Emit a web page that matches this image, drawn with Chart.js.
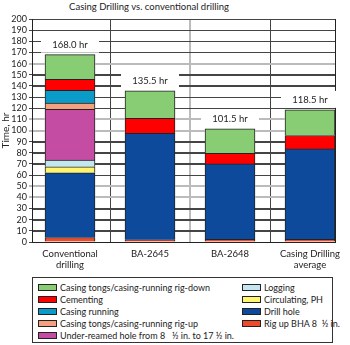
<!DOCTYPE html>
<html lang="en">
<head>
<meta charset="UTF-8">
<title>Casing Drilling vs. conventional drilling</title>
<style>
  html, body { margin: 0; padding: 0; background: #fff; }
  #wrap { position: relative; width: 350px; height: 345px; font-family: Lato, sans-serif; color: #222; }
  #title { position: absolute; left: 0; width: 298px; top: 1px; height: 14px; text-align: center; font-size: 9.5px; }
  #chart { position: absolute; left: 0; top: 0; }
  #legend {
    position: absolute; left: 32px; top: 277px; width: 301px; height: 66px;
    box-sizing: border-box; border: 1px solid #333; padding: 3px 0 0 5px;
    display: grid; grid-template-rows: repeat(5, 12px); grid-auto-flow: column;
    grid-template-columns: 204px 90px; font-size: 9px;
  }
  #legend .item { display: flex; align-items: center; white-space: pre; }
  #legend .sw { width: 17px; height: 5px; border: 1px solid #222; margin-right: 3px; flex: none; }
</style>
</head>
<body>
<div id="wrap">
  <div id="title">Casing Drilling vs. conventional drilling</div>
  <canvas id="chart" width="350" height="272"></canvas>
  <div id="legend"></div>
</div>
<script src="https://cdn.jsdelivr.net/npm/chart.js"></script>
<script>
// categories along x
const categories = [['Conventional', 'drilling'], 'BA-2645', 'BA-2648', ['Casing Drilling', 'average']];

// hours per activity, bottom of the stack first (null = not done)
const rigUpBha      = [4, 2, 2.5, 2.5];
const drillHole     = [58, 95.5, 67.5, 81];
const circulating   = [5.5, null, null, null];
const logging       = [6, null, null, null];
const underReamed   = [45.5, null, null, null];
const tongsRigUp    = [5.5, null, null, null];
const casingRunning = [11.5, null, null, null];
const cementing     = [10, 13.5, 9.5, 12];
const tongsRigDown  = [22, 24.5, 22, 23];

const yMin = 0, yMax = 200, yStep = 10;
const heavyLines = [40, 50, 100, 110, 160];

const series = [
  { label: 'Rig up BHA 8  \u00bd in.', data: rigUpBha, color: '#EE4B2B' },
  { label: 'Drill hole', data: drillHole, color: '#0D4A9B' },
  { label: 'Circulating, PH', data: circulating, color: '#FFF56E' },
  { label: 'Logging', data: logging, color: '#C4E6F0' },
  { label: 'Under-reamed hole from 8   \u00bd in. to 17 \u00bd in.', data: underReamed, color: '#C44DA3' },
  { label: 'Casing tongs/casing-running rig-up', data: tongsRigUp, color: '#F5A07E' },
  { label: 'Casing running', data: casingRunning, color: '#0A9BC8' },
  { label: 'Cementing', data: cementing, color: '#FF0000' },
  { label: 'Casing tongs/casing-running rig-down', data: tongsRigDown, color: '#88CC74' }
];

const FONT = 'Lato, sans-serif';
const yValues = [];
for (let v = yMin; v <= yMax; v += yStep) yValues.push(v);
const totalOf = i => series.reduce((sum, s) => sum + (s.data[i] || 0), 0);

// horizontal rules between the bars, then "168.0 hr" totals on a white patch
const totalsPlugin = {
  id: 'totals',
  afterDatasetsDraw(chart) {
    const { ctx, chartArea: a, scales: { x, y } } = chart;
    const meta = chart.getDatasetMeta(0);
    const bars = categories.map((c, i) => {
      const half = (meta.data[i] ? meta.data[i].width : 50) / 2;
      const px = x.getPixelForValue(i);
      return { left: px - half, right: px + half, top: y.getPixelForValue(totalOf(i)) };
    });
    ctx.save();
    yValues.forEach(v => {
      if (v === yMin) return;
      const heavy = heavyLines.includes(v);
      const w = heavy ? 2 : 1;
      const py = heavy ? Math.round(y.getPixelForValue(v)) : Math.round(y.getPixelForValue(v)) + 0.5;
      ctx.strokeStyle = heavy ? '#bbb' : '#444';
      ctx.lineWidth = w;
      let start = a.left + 1;
      ctx.beginPath();
      bars.forEach(b => {
        if (py > b.top) {
          ctx.moveTo(start, py);
          ctx.lineTo(b.left, py);
          start = b.right;
        }
      });
      ctx.moveTo(start, py);
      ctx.lineTo(a.right, py);
      ctx.stroke();
    });
    ctx.restore();

    categories.forEach((c, i) => {
      const total = totalOf(i);
      const px = x.getPixelForValue(i);
      const py = y.getPixelForValue(total);
      ctx.save();
      ctx.fillStyle = '#fff';
      ctx.fillRect(px - 29, py - 19, 58, 17);
      ctx.fillStyle = '#222';
      ctx.font = '9.5px ' + FONT;
      ctx.textAlign = 'center';
      ctx.textBaseline = 'middle';
      ctx.fillText(total.toFixed(1) + ' hr', px, py - 10);
      ctx.restore();
    });
  }
};

const chart = new Chart(document.getElementById('chart'), {
  type: 'bar',
  data: {
    datasets: series.map(s => ({
      label: s.label,
      data: s.data.map((v, i) => ({ x: i, y: v })).filter(p => p.y !== null),
      backgroundColor: s.color,
      borderColor: '#222',
      borderWidth: 1,
      barThickness: 50
    }))
  },
  options: {
    responsive: false,
    animation: false,
    layout: { padding: { top: 19, right: 14 } },
    plugins: {
      legend: { display: false },
      tooltip: { enabled: false }
    },
    scales: {
      x: {
        type: 'linear',
        stacked: true,
        offset: false,
        min: -0.475,
        max: 3.3125,
        afterBuildTicks: s => { s.ticks = [0, 0.5, 1, 1.5, 2, 2.5, 3].map(v => ({ value: v })); },
        afterFit: s => { s.height = 30; },
        ticks: {
          autoSkip: false, maxRotation: 0, padding: 6, color: '#222',
          font: { family: FONT, size: 9.5 },
          callback: v => Number.isInteger(v) ? categories[v] : ''
        },
        grid: {
          offset: false,
          drawTicks: false,
          color: c => (c.tick && !Number.isInteger(c.tick.value)) ? (c.tick.value === 1.5 ? '#bbb' : '#444') : 'rgba(0,0,0,0)',
          lineWidth: c => (c.tick && c.tick.value === 1.5) ? 2 : 1
        },
        border: { color: '#222' }
      },
      y: {
        stacked: true,
        min: yMin,
        max: yMax,
        afterFit: s => { s.width = 32; },
        ticks: { stepSize: yStep, autoSkip: false, padding: 2, color: '#222', font: { family: FONT, size: 9 } },
        grid: {
          tickLength: 3,
          color: yValues.map(v => heavyLines.includes(v) ? '#bbb' : '#444'),
          lineWidth: yValues.map(v => heavyLines.includes(v) ? 2 : 1)
        },
        border: { color: '#222' },
        title: { display: true, text: 'Time, hr', color: '#222', padding: 0, font: { family: FONT, size: 10 } }
      },
      // right edge of the plot box
      y2: {
        position: 'right',
        min: yMin,
        max: yMax,
        afterFit: s => { s.width = 1; },
        ticks: { display: false },
        grid: { drawOnChartArea: false, drawTicks: false },
        border: { color: '#222' }
      }
    }
  },
  plugins: [totalsPlugin]
});

// two-column legend built from the datasets, top of stack first
const legendEl = document.getElementById('legend');
chart.data.datasets.slice().reverse().forEach(ds => {
  const item = document.createElement('div');
  item.className = 'item';
  const sw = document.createElement('span');
  sw.className = 'sw';
  sw.style.background = ds.backgroundColor;
  const txt = document.createElement('span');
  txt.textContent = ds.label;
  item.appendChild(sw);
  item.appendChild(txt);
  legendEl.appendChild(item);
});
</script>
</body>
</html>
